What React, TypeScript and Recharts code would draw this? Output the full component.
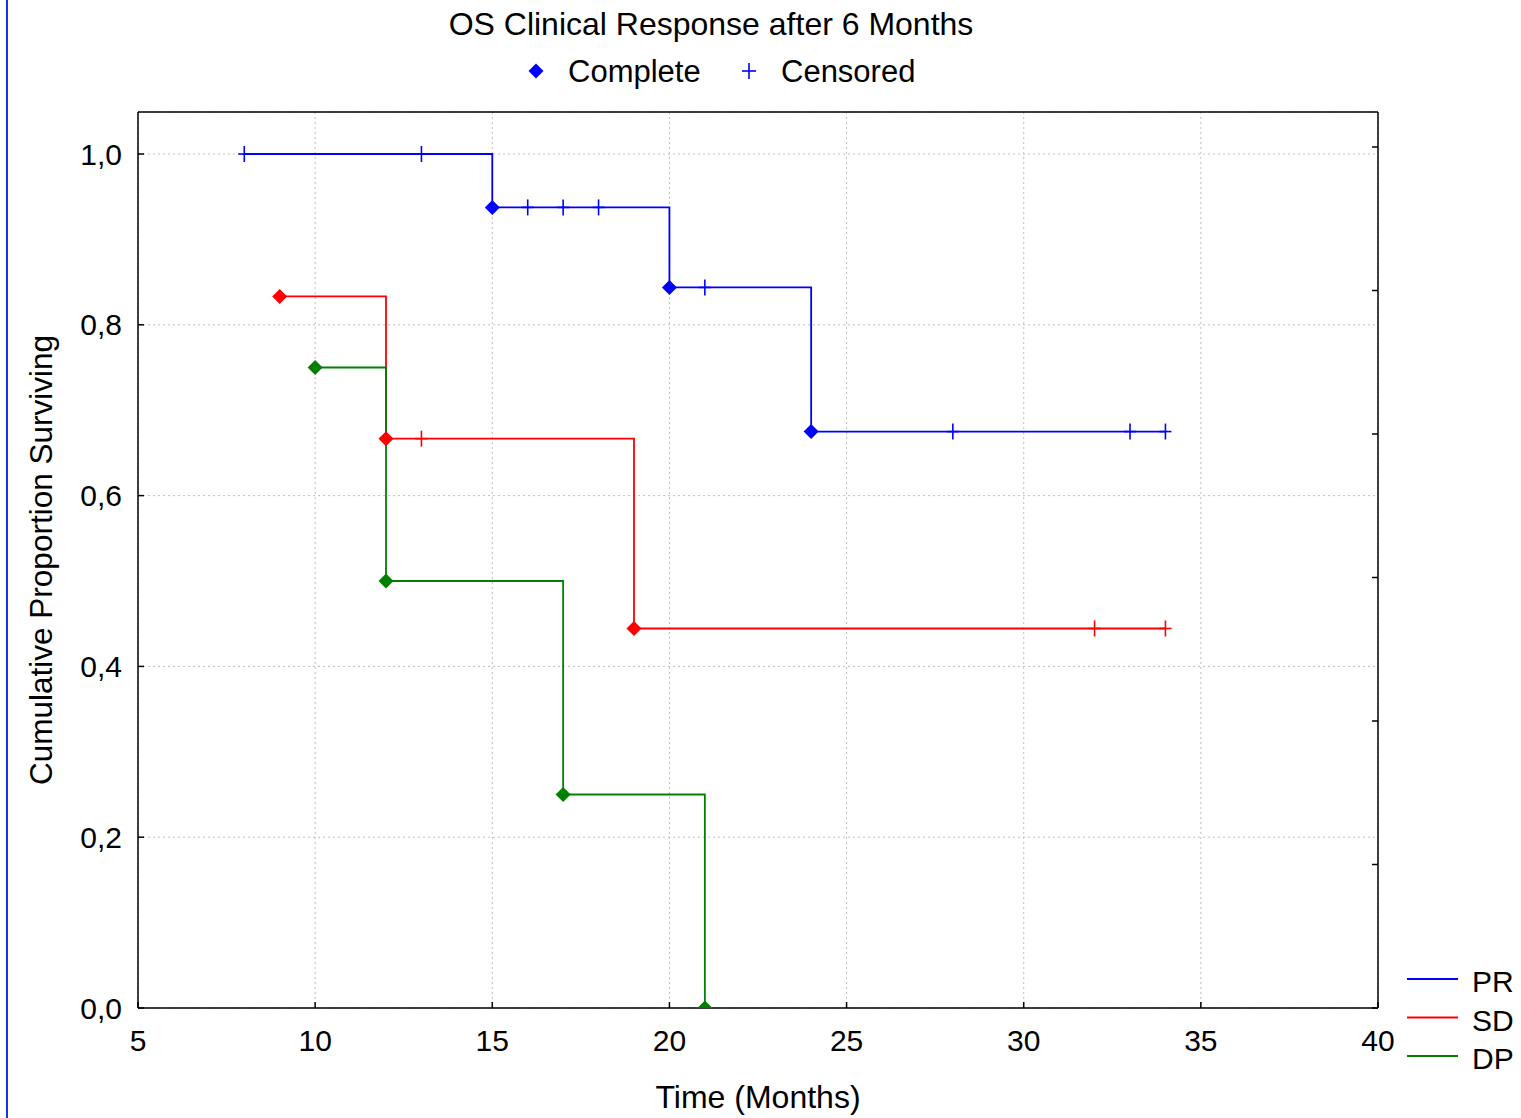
import React from "react";
import { LineChart, Line, XAxis, YAxis, CartesianGrid } from "recharts";

// ---- data ----
const xTicks = [5, 10, 15, 20, 25, 30, 35, 40];
const yTicks = [0, 0.2, 0.4, 0.6, 0.8, 1.0];
const rightTicks = [0, 1, 2, 3, 4, 5, 6];

const seriesNames = ["PR", "SD", "DP"];
const seriesColors = ["#0000ff", "#ff0000", "#008000"];

// PR
const prTime = [8, 13, 15, 16, 17, 18, 20, 21, 24, 28, 33, 34];
const prSurv = [1, 1, 0.9375, 0.9375, 0.9375, 0.9375, 0.84375, 0.84375, 0.675, 0.675, 0.675, 0.675];
const prEvent = [0, 0, 1, 0, 0, 0, 1, 0, 1, 0, 0, 0];
// SD
const sdTime = [9, 12, 13, 19, 32, 34];
const sdSurv = [0.8333, 0.6667, 0.6667, 0.4444, 0.4444, 0.4444];
const sdEvent = [1, 1, 0, 1, 0, 0];
// DP
const dpTime = [10, 12, 17, 21];
const dpSurv = [0.75, 0.5, 0.25, 0];
const dpEvent = [1, 1, 1, 1];

const build = (t: number[], s: number[], e: number[]) =>
  t.map((v, i) => ({ t: v, s: s[i], e: e[i] }));

const seriesData = [
  build(prTime, prSurv, prEvent),
  build(sdTime, sdSurv, sdEvent),
  build(dpTime, dpSurv, dpEvent),
];

const FONT = "'Liberation Sans', Arial, sans-serif";
const FS = 30;

const makeDot = (color: string) => (props: any) => {
  const { cx, cy, payload, index } = props;
  if (cx == null || cy == null) return <g key={`d${index}`} />;
  if (payload.e) {
    const r = 7.5;
    return (
      <polygon
        key={`d${index}`}
        points={`${cx},${cy - r} ${cx + r},${cy} ${cx},${cy + r} ${cx - r},${cy}`}
        fill={color}
        stroke="none"
      />
    );
  }
  return (
    <g key={`d${index}`}>
      <line x1={cx - 6} x2={cx + 6} y1={cy} y2={cy} stroke={color} strokeWidth={1.6} />
      <line x1={cx} x2={cx} y1={cy - 8} y2={cy + 8} stroke={color} strokeWidth={1.6} />
    </g>
  );
};

const noTick = () => <g />;
const fmtY = (v: number) => v.toFixed(1).replace(".", ",");

export default function App() {
  return (
    <div style={{ position: "absolute", left: 0, top: 0, width: 1521, height: 1118, background: "#fff" }}>
      <div style={{ position: "absolute", left: 6, top: 0, width: 2, height: 1118, background: "#1a33e6" }} />
      <LineChart
        width={1521}
        height={1118}
        margin={{ top: 111, right: 142, bottom: 0, left: 0 }}
        style={{ fontFamily: FONT }}
      >
        <CartesianGrid stroke="#bfbfbf" strokeDasharray="2 3" strokeWidth={1} />
        <XAxis
          dataKey="t"
          type="number"
          domain={[5, 40]}
          ticks={xTicks}
          allowDataOverflow
          height={110}
          stroke="#000"
          strokeWidth={1.5}
          tickSize={-6}
          tickMargin={28}
          tick={{ fill: "#000", fontSize: FS, fontFamily: FONT }}
          label={{ value: "Time (Months)", position: "insideBottom", offset: 10, fill: "#000", fontSize: 32, fontFamily: FONT }}
        />
        <XAxis
          xAxisId="top"
          orientation="top"
          type="number"
          domain={[5, 40]}
          ticks={xTicks}
          allowDataOverflow
          height={1}
          stroke="#000"
          strokeWidth={1.5}
          tickSize={-6}
          tick={noTick}
        />
        <YAxis
          type="number"
          domain={[0, 1.0492]}
          ticks={yTicks}
          allowDataOverflow
          width={138}
          stroke="#000"
          strokeWidth={1.5}
          tickSize={-6}
          tickMargin={22}
          tickFormatter={fmtY}
          tick={{ fill: "#000", fontSize: FS, fontFamily: FONT }}
          label={{
            value: "Cumulative Proportion Surviving",
            angle: -90,
            position: "insideLeft",
            offset: 41,
            fill: "#000",
            fontSize: 31.5,
            fontFamily: FONT,
            style: { textAnchor: "middle" },
          }}
        />
        <YAxis
          yAxisId="right"
          orientation="right"
          type="number"
          domain={[0, 6.244]}
          ticks={rightTicks}
          allowDataOverflow
          width={1}
          stroke="#000"
          strokeWidth={1.5}
          tickSize={-6}
          tick={noTick}
        />
        {seriesData.map((d, i) => (
          <Line
            key={seriesNames[i]}
            data={d}
            dataKey="s"
            name={seriesNames[i]}
            type="stepAfter"
            stroke={seriesColors[i]}
            strokeWidth={1.8}
            dot={makeDot(seriesColors[i])}
            activeDot={false}
            isAnimationActive={false}
          />
        ))}
        {/* title and legends */}
        <text x={711} y={35} textAnchor="middle" fontSize={32} fontFamily={FONT} fill="#000">
          OS Clinical Response after 6 Months
        </text>
        <g>
          <polygon points="536,63.5 543.5,71 536,78.5 528.5,71" fill="#0000ff" />
          <text x={568} y={82} fontSize={31} fontFamily={FONT} fill="#000">Complete</text>
          <line x1={742} x2={756} y1={71} y2={71} stroke="#0000ff" strokeWidth={1.6} />
          <line x1={749} x2={749} y1={63} y2={79} stroke="#0000ff" strokeWidth={1.6} />
          <text x={781} y={82} fontSize={31} fontFamily={FONT} fill="#000">Censored</text>
        </g>
        {seriesNames.map((n, i) => (
          <g key={`lg${n}`}>
            <line x1={1407} x2={1458} y1={979 + i * 38.5} y2={979 + i * 38.5} stroke={seriesColors[i]} strokeWidth={1.8} />
            <text x={1472} y={992 + i * 38.5} fontSize={FS} fontFamily={FONT} fill="#000">{n}</text>
          </g>
        ))}
      </LineChart>
    </div>
  );
}
